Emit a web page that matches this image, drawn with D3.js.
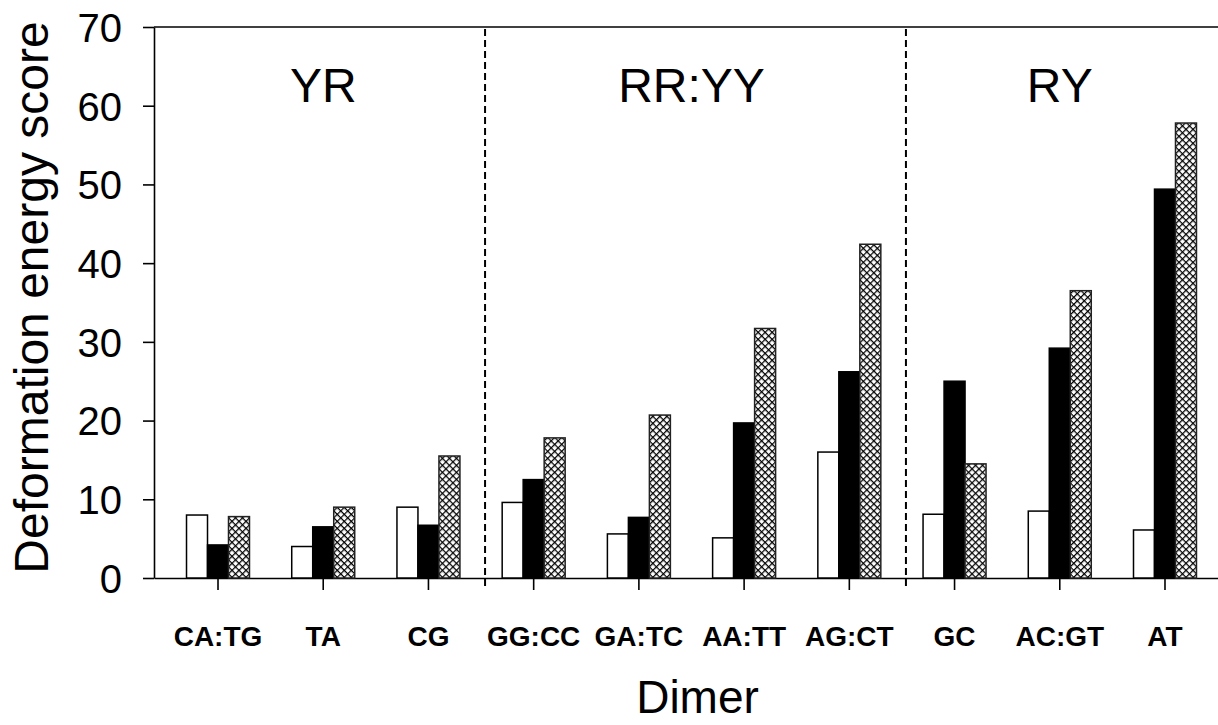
<!DOCTYPE html>
<html>
<head>
<meta charset="utf-8">
<script src="https://cdn.jsdelivr.net/npm/d3@7"></script>
<style>
  body { margin: 0; background: #fff; }
  svg { display: block; font-family: "Liberation Sans", Arial, sans-serif; }
  .axis path, .axis line { stroke: #000; stroke-width: 1.6; }
  .axis text { fill: #000; }
</style>
</head>
<body>
<div id="chart"></div>
<script>
// Dimer categories along the x axis
const dimers = ['CA:TG', 'TA', 'CG', 'GG:CC', 'GA:TC', 'AA:TT', 'AG:CT', 'GC', 'AC:GT', 'AT'];

// three series per dimer (white, black, cross-hatched bars)
const seriesKeys = ['open', 'solid', 'hatched'];
const openValues = [8.0, 4.0, 9.0, 9.6, 5.6, 5.1, 16.0, 8.1, 8.5, 6.1];
const solidValues = [4.2, 6.5, 6.7, 12.5, 7.7, 19.7, 26.2, 25.0, 29.2, 49.4];
const hatchedValues = [7.8, 9.0, 15.5, 17.8, 20.7, 31.7, 42.4, 14.5, 36.5, 57.8];

// dimer groups shown above the bars
const groupNames = ['YR', 'RR:YY', 'RY'];
const groupMembers = [
  ['CA:TG', 'TA', 'CG'],
  ['GG:CC', 'GA:TC', 'AA:TT', 'AG:CT'],
  ['GC', 'AC:GT', 'AT']
];

const yTicks = [0, 10, 20, 30, 40, 50, 60, 70];

class GroupedBarchart {

  constructor(_config, _data) {
    this.config = {
      parentElement: _config.parentElement,
      containerWidth: _config.containerWidth || 1218,
      containerHeight: _config.containerHeight || 725,
      margin: _config.margin || { top: 27, right: -11, bottom: 147, left: 154 }
    };
    this.data = _data;
    this.initVis();
  }

  initVis() {
    let vis = this;

    vis.width = vis.config.containerWidth - vis.config.margin.left - vis.config.margin.right;
    vis.height = vis.config.containerHeight - vis.config.margin.top - vis.config.margin.bottom;

    vis.xScale = d3.scaleBand()
      .range([0, vis.width])
      .paddingInner(0.4014)
      .paddingOuter(0.309);

    vis.xInner = d3.scaleBand();

    vis.yScale = d3.scaleLinear()
      .range([vis.height, 0]);

    vis.xAxis = d3.axisBottom(vis.xScale)
      .tickSize(12)
      .tickSizeOuter(0);

    vis.yAxis = d3.axisLeft(vis.yScale)
      .tickValues(yTicks)
      .tickSize(11)
      .tickSizeOuter(0);

    vis.svg = d3.select(vis.config.parentElement)
      .append('svg')
      .attr('width', vis.config.containerWidth)
      .attr('height', vis.config.containerHeight);

    // cross-hatch fill
    const tile = 7 / Math.SQRT2;
    const pat = vis.svg.append('defs').append('pattern')
      .attr('id', 'crosshatch')
      .attr('patternUnits', 'userSpaceOnUse')
      .attr('width', tile)
      .attr('height', tile)
      .attr('patternTransform', 'rotate(45)');
    pat.append('rect').attr('width', tile).attr('height', tile).attr('fill', '#fff');
    pat.append('rect').attr('width', tile).attr('height', 1.25).attr('fill', '#000');
    pat.append('rect').attr('width', 1.25).attr('height', tile).attr('fill', '#000');

    vis.chart = vis.svg.append('g')
      .attr('transform', `translate(${vis.config.margin.left},${vis.config.margin.top})`);

    vis.xAxisG = vis.chart.append('g')
      .attr('class', 'axis x-axis')
      .attr('transform', `translate(0,${vis.height})`);

    vis.yAxisG = vis.chart.append('g')
      .attr('class', 'axis y-axis');

    vis.svg.append('text')
      .attr('transform', `translate(48,${vis.config.margin.top + vis.height / 2 - 5}) rotate(-90)`)
      .attr('text-anchor', 'middle')
      .style('font-size', '48px')
      .text('Deformation energy score');

    vis.svg.append('text')
      .attr('x', vis.config.margin.left + vis.width / 2 + 6)
      .attr('y', 713)
      .attr('text-anchor', 'middle')
      .style('font-size', '46px')
      .text('Dimer');
  }

  updateVis() {
    let vis = this;

    vis.xValue = d => d.dimer;

    vis.xScale.domain(vis.data.map(vis.xValue));
    vis.xInner.domain(seriesKeys).range([0, vis.xScale.bandwidth()]);
    vis.yScale.domain([0, 70]);

    vis.renderVis();
  }

  renderVis() {
    let vis = this;
    const fills = { open: '#fff', solid: '#000', hatched: 'url(#crosshatch)' };
    const strokes = { open: '#000', solid: '#000', hatched: '#222' };

    // top frame line
    vis.chart.append('line')
      .attr('x1', 0).attr('x2', vis.width)
      .attr('y1', vis.yScale(70)).attr('y2', vis.yScale(70))
      .attr('stroke', '#000').attr('stroke-width', 1.6);

    // dashed separators between groups
    const step = vis.xScale.step();
    const separators = groupMembers.slice(0, -1).map(g => g[g.length - 1]);
    vis.chart.selectAll('.separator')
      .data(separators)
      .join('line')
      .attr('class', 'separator')
      .attr('x1', d => vis.xScale(d) + vis.xScale.bandwidth() / 2 + step / 2 + 4)
      .attr('x2', d => vis.xScale(d) + vis.xScale.bandwidth() / 2 + step / 2 + 4)
      .attr('y1', vis.yScale(70) + 2)
      .attr('y2', vis.height + 8)
      .attr('stroke', '#000')
      .attr('stroke-width', 2)
      .attr('stroke-dasharray', '7,4');

    const groups = vis.chart.selectAll('.dimer')
      .data(vis.data)
      .join('g')
      .attr('class', 'dimer')
      .attr('transform', d => `translate(${vis.xScale(vis.xValue(d))},0)`);

    groups.selectAll('.bar')
      .data(d => seriesKeys.map(k => ({ key: k, value: d[k] })))
      .join('rect')
      .attr('class', 'bar')
      .attr('x', d => vis.xInner(d.key))
      .attr('width', vis.xInner.bandwidth())
      .attr('y', d => vis.yScale(d.value))
      .attr('height', d => vis.height - vis.yScale(d.value))
      .attr('fill', d => fills[d.key])
      .attr('stroke', d => strokes[d.key])
      .attr('stroke-width', 1.5);

    // group titles
    vis.chart.selectAll('.group-label')
      .data(groupNames)
      .join('text')
      .attr('class', 'group-label')
      .attr('x', (d, i) => d3.mean(groupMembers[i], m => vis.xScale(m) + vis.xScale.bandwidth() / 2))
      .attr('y', 75)
      .attr('text-anchor', 'middle')
      .style('font-size', '48px')
      .text(d => d);

    vis.xAxisG.call(vis.xAxis);
    vis.xAxisG.selectAll('text')
      .attr('y', 68)
      .attr('dy', 0)
      .style('font-size', '28px')
      .style('font-weight', 'bold');

    vis.yAxisG.call(vis.yAxis);
    vis.yAxisG.selectAll('text')
      .attr('x', -32)
      .attr('dy', '0.36em')
      .style('font-size', '40px');
  }
}

const data = dimers.map((d, i) => ({
  dimer: d,
  open: openValues[i],
  solid: solidValues[i],
  hatched: hatchedValues[i]
}));

const chart = new GroupedBarchart({ parentElement: '#chart' }, data);
chart.updateVis();
</script>
</body>
</html>
